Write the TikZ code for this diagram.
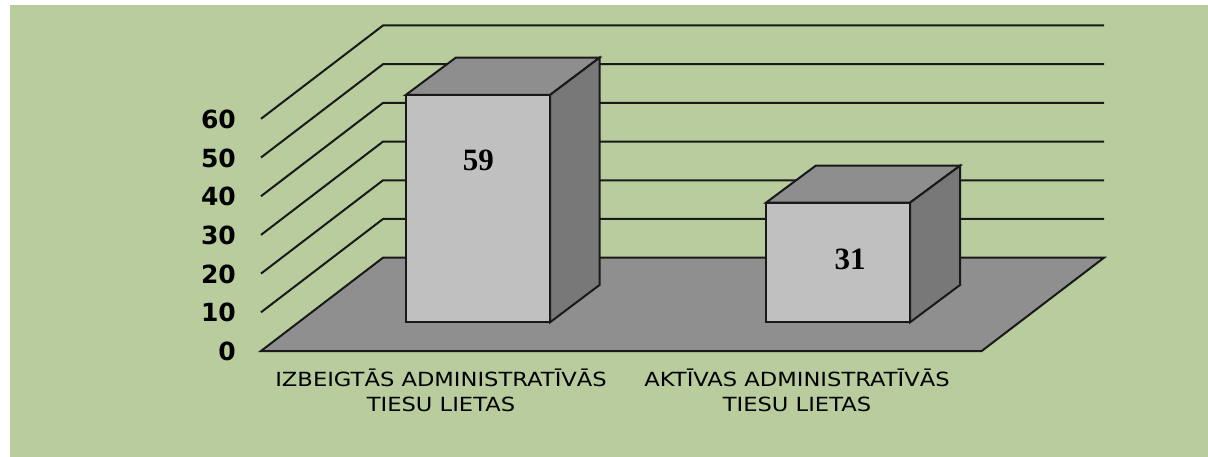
\documentclass[tikz,border=0pt]{standalone}
\usepackage{fontspec}
\setmainfont{DejaVu Sans}
\newfontfamily\valfont{Liberation Serif}
\newfontfamily\catfont{DejaVu Sans}[FakeStretch=1.16]
\definecolor{bggreen}{RGB}{184,204,157}
\definecolor{floorgray}{RGB}{143,143,143}
\definecolor{frontgray}{RGB}{192,192,192}
\definecolor{topgray}{RGB}{142,142,142}
\definecolor{sidegray}{RGB}{120,120,120}
\definecolor{edge}{RGB}{25,25,25}
\tikzset{
  gridline/.style={draw=edge, line width=2pt},
  faceline/.style={draw=edge, line width=2pt, line join=miter},
  axislabel/.style={anchor=east, inner sep=0pt, font=\fontsize{25}{30}\selectfont\bfseries},
  catlabel/.style={anchor=base, inner sep=0pt, align=center, font=\fontsize{19.5}{25}\selectfont\catfont},
  vallabel/.style={inner sep=0pt, font=\fontsize{31}{36}\selectfont\valfont\bfseries},
}
\begin{document}
\begin{tikzpicture}[x=1pt,y=-1pt]
\useasboundingbox (0,0) rectangle (1208,457);
\fill[white] (0,0) rectangle (1208,457);
\fill[bggreen] (10,5) rectangle (1208,457);
% floor
\filldraw[fill=floorgray, faceline] (261,351) -- (383,257.7) -- (1104,257.7) -- (981.7,351) -- cycle;
% gridlines 10..60
\foreach \k in {1,...,6}{
  \draw[gridline] (261,{351-38.7*\k}) -- (383,{257.7-38.7*\k}) -- (1104,{257.7-38.7*\k});
}
% axis labels
\foreach \v/\k in {0/0,10/1,20/2,30/3,40/4,50/5,60/6}{
  \node[axislabel] (ax\v) at (236,{351.5-38.7*\k}) {\v};
}
% bar 1
\filldraw[fill=frontgray, faceline] (405.7,322.3) rectangle (550,95);
\filldraw[fill=topgray, faceline] (405.7,95) -- (455.7,57.7) -- (599.5,57.7) -- (550,95) -- cycle;
\filldraw[fill=sidegray, faceline] (550,95) -- (599.5,57.7) -- (599.5,285) -- (550,322.3) -- cycle;
% bar 2
\filldraw[fill=frontgray, faceline] (766,322.3) rectangle (910,202.7);
\filldraw[fill=topgray, faceline] (766,202.7) -- (815.7,165.7) -- (960,165.7) -- (910,202.7) -- cycle;
\filldraw[fill=sidegray, faceline] (910,202.7) -- (960,165.7) -- (960,285) -- (910,322.3) -- cycle;
% value labels
\node[vallabel] (v1) at (478.3,160) {59};
\node[vallabel] (v2) at (850,259) {31};
% category labels (anchor base = baseline of last line)
\node[catlabel] (c1) at (441,411.5) {IZBEIGTĀS ADMINISTRATĪVĀS\\TIESU LIETAS};
\node[catlabel] (c2) at (797,411.5) {AKTĪVAS ADMINISTRATĪVĀS\\TIESU LIETAS};
\end{tikzpicture}
\end{document}
